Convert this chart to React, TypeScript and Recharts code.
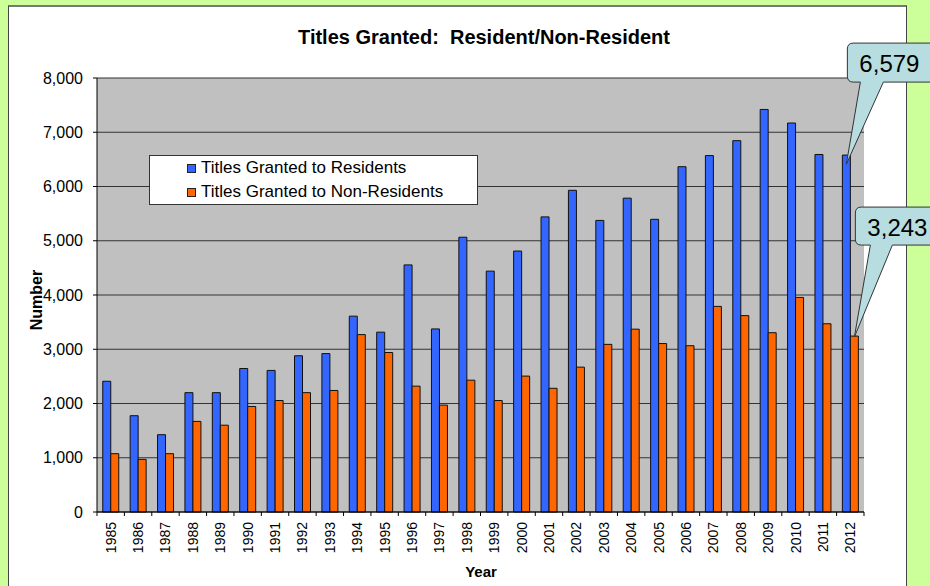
import { BarChart, Bar, XAxis, YAxis, CartesianGrid, Legend, LabelList } from 'recharts';

const years = [
	'1985', '1986', '1987', '1988', '1989', '1990', '1991', '1992', '1993', '1994',
	'1995', '1996', '1997', '1998', '1999', '2000', '2001', '2002', '2003', '2004',
	'2005', '2006', '2007', '2008', '2009', '2010', '2011', '2012',
];
const residents = [
	2410, 1775, 1425, 2200, 2200, 2645, 2610, 2880, 2920, 3610,
	3315, 4555, 3375, 5065, 4440, 4810, 5440, 5930, 5375, 5785,
	5395, 6365, 6570, 6845, 7420, 7170, 6590, 6579,
];
const nonResidents = [
	1075, 970, 1075, 1670, 1600, 1945, 2055, 2200, 2240, 3270,
	2940, 2320, 1970, 2430, 2055, 2505, 2280, 2670, 3090, 3370,
	3105, 3065, 3790, 3620, 3305, 3955, 3470, 3243,
];
const seriesNames = ['Titles Granted to Residents', 'Titles Granted to Non-Residents'];
const yTicks = [0, 1000, 2000, 3000, 4000, 5000, 6000, 7000, 8000];

const data = years.map((year, i) => ({
	year,
	residents: residents[i],
	nonResidents: nonResidents[i],
}));

const FONT = '"Liberation Sans", Arial, sans-serif';
const PLOT_LEFT = 97;
const PLOT_RIGHT = 864;
const BAND = (PLOT_RIGHT - PLOT_LEFT) / years.length;

const YearTick = (props: any) => {
	const { x, y, payload, index } = props;
	const last = index === years.length - 1;
	return (
		<g>
			<line x1={x - BAND / 2} y1={y} x2={x - BAND / 2} y2={y + 4} stroke='#000' />
			{last && <line x1={x + BAND / 2} y1={y} x2={x + BAND / 2} y2={y + 4} stroke='#000' />}
			<text
				transform={`translate(${x},${y + 10}) rotate(-90)`}
				textAnchor='end'
				dominantBaseline='central'
				fontSize={14}
				fontFamily={FONT}
				fill='#000'
			>
				{payload.value}
			</text>
		</g>
	);
};

// callout balloon pointing at the last bar of a series
const makeCallout = (boxTop: number, boxBottom: number, baseA: number, baseB: number, dy: number) =>
	(props: any) => {
		const { x, y, width, value, index } = props;
		if (index !== years.length - 1) return null;
		const tx = x + width / 2;
		const ty = y + dy;
		const left = tx + 1;
		const right = left + 95;
		const top = ty - boxTop;
		const bottom = ty - boxBottom;
		const r = 6;
		const d = [
			`M${left + r},${top}`,
			`L${right},${top}`,
			`L${right},${bottom}`,
			`L${tx + baseB},${bottom}`,
			`L${tx},${ty}`,
			`L${tx + baseA},${bottom}`,
			`L${left + r},${bottom}`,
			`Q${left},${bottom} ${left},${bottom - r}`,
			`L${left},${top + r}`,
			`Q${left},${top} ${left + r},${top}`,
			'Z',
		].join(' ');
		return (
			<g>
				<path d={d} fill='#B7DDE1' stroke='#333' strokeWidth={1} />
				<text
					x={left + 12}
					y={(top + bottom) / 2 + 1}
					dominantBaseline='central'
					fontSize={24}
					fontFamily={FONT}
					fill='#000'
				>
					{Number(value).toLocaleString('en-US')}
				</text>
			</g>
		);
	};

const LegendBox = (props: any) => {
	const payload = [...(props.payload || [])].sort(
		(a: any, b: any) => seriesNames.indexOf(a.value) - seriesNames.indexOf(b.value),
	);
	return (
		<div
			style={{
				width: 329,
				height: 50,
				background: '#fff',
				border: '1px solid #333',
				fontFamily: FONT,
				fontSize: 17,
				color: '#000',
				boxSizing: 'border-box',
			}}
		>
			{payload.map((entry: any, i: number) => (
				<div
					key={`legend-${i}`}
					style={{ display: 'flex', alignItems: 'center', height: 24, paddingLeft: 37 }}
				>
					<div style={{ width: 7, height: 7, background: entry.color, border: '1px solid #222', marginRight: 5 }} />
					<span style={{ whiteSpace: 'nowrap' }}>{entry.value}</span>
				</div>
			))}
		</div>
	);
};

const App = () => {
	return (
		<div style={{ position: 'absolute', left: 0, top: 0, width: 930, height: 586, background: '#CCFF99', overflow: 'hidden' }}>
			<div
				style={{
					position: 'absolute',
					left: 8,
					top: 5,
					width: 897,
					height: 600,
					background: '#fff',
					borderLeft: '1px solid #444',
					borderRight: '1px solid #444',
					borderTop: '2px solid #777',
				}}
			/>
			<div
				style={{
					position: 'absolute',
					left: 0,
					top: 26,
					width: 968,
					textAlign: 'center',
					fontFamily: FONT,
					fontWeight: 'bold',
					fontSize: 20,
					whiteSpace: 'pre',
				}}
			>
				{'Titles Granted:  Resident/Non-Resident'}
			</div>
			<div
				style={{
					position: 'absolute',
					left: 0,
					top: 563,
					width: 962,
					textAlign: 'center',
					fontFamily: FONT,
					fontWeight: 'bold',
					fontSize: 15,
				}}
			>
				Year
			</div>
			<div
				style={{
					position: 'absolute',
					left: 37,
					top: 300,
					transform: 'translate(-50%, -50%) rotate(-90deg)',
					fontFamily: FONT,
					fontWeight: 'bold',
					fontSize: 16,
				}}
			>
				Number
			</div>
			<div style={{ position: 'absolute', left: 0, top: 0 }}>
				<BarChart
					width={930}
					height={586}
					data={data}
					margin={{ top: 78, right: 66, bottom: 34, left: 37 }}
					barCategoryGap='21%'
					barGap={0}
					style={{ overflow: 'visible' }}
				>
					<CartesianGrid vertical={false} fill='#C0C0C0' fillOpacity={1} stroke='#333' strokeWidth={1.2} />
					<XAxis
						dataKey='year'
						height={40}
						interval={0}
						tickLine={false}
						tickSize={0}
						tickMargin={0}
						axisLine={{ stroke: '#000' }}
						tick={<YearTick />}
					/>
					<YAxis
						width={60}
						domain={[0, 8000]}
						ticks={yTicks}
						interval={0}
						tickSize={4}
						tickMargin={10}
						axisLine={{ stroke: '#000' }}
						tickLine={{ stroke: '#000' }}
						tick={{ fontSize: 16, fontFamily: FONT, fill: '#000' }}
						tickFormatter={(v: number) => v.toLocaleString('en-US')}
					/>
					<Legend
						layout='horizontal'
						verticalAlign='middle'
						align='center'
						wrapperStyle={{ left: 149, top: 155, width: 331, height: 50 }}
						content={<LegendBox />}
					/>
					<Bar
						dataKey='residents'
						name={seriesNames[0]}
						fill='#3366FF'
						stroke='#111'
						strokeWidth={1}
						isAnimationActive={false}
					>
						<LabelList dataKey='residents' content={makeCallout(121, 82, 14, 37, 9)} />
					</Bar>
					<Bar
						dataKey='nonResidents'
						name={seriesNames[1]}
						fill='#FF6600'
						stroke='#111'
						strokeWidth={1}
						isAnimationActive={false}
					>
						<LabelList dataKey='nonResidents' content={makeCallout(130, 92, 16, 38, 1)} />
					</Bar>
				</BarChart>
			</div>
		</div>
	);
};

export default App;
